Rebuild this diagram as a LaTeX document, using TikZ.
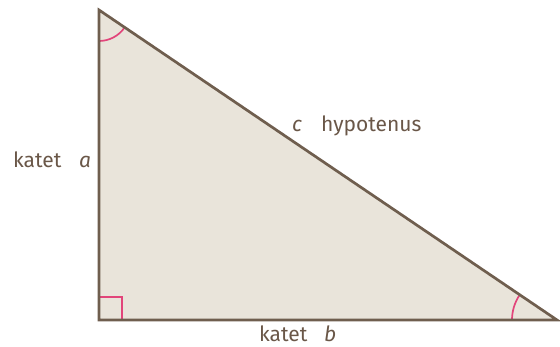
\documentclass[tikz,border=0pt]{standalone}
\usepackage{fontspec}
\setmainfont{Fira Sans}
\usetikzlibrary{calc}
\definecolor{edge}{HTML}{6F5E4E}
\definecolor{paper}{HTML}{E9E4DA}
\definecolor{mark}{HTML}{E2457A}
\definecolor{ink}{HTML}{6A5748}
\begin{document}
\begin{tikzpicture}[x=1pt,y=1pt,
  lbl/.style={inner sep=0pt,anchor=base west,text=ink,font=\fontsize{21}{24}\selectfont},
  anglemark/.style={draw=mark,line width=1.7pt}]
\useasboundingbox (0,0) rectangle (560,347);
\coordinate (T) at (99,337);
\coordinate (L) at (99,27);
\coordinate (R) at (557,27);
\fill[paper] (T) -- (L) -- (R) -- cycle;
\draw[anglemark] ($(L)+(0,23)$) -- ($(L)+(23,23)$) -- ($(L)+(23,0)$);
\draw[anglemark] ($(T)+(0,-31)$) arc[start angle=-90,end angle=-34.1,radius=31];
\draw[anglemark] ($(R)+(-45,0)$) arc[start angle=180,end angle=145.9,radius=45];
\draw[edge,line width=2.7pt,line join=miter] (T) -- (L) -- (R) -- cycle;
\node[lbl] (ka) at (13,179) {katet};
\node[lbl] (a) at (79,179) {\itshape a};
\node[lbl] (c) at (292,215) {\itshape c};
\node[lbl] (hyp) at (321,215) {hypotenus};
\node[lbl] (kb) at (259,5.5) {katet};
\node[lbl] (b) at (324,5.5) {\itshape b};
\end{tikzpicture}
\end{document}
